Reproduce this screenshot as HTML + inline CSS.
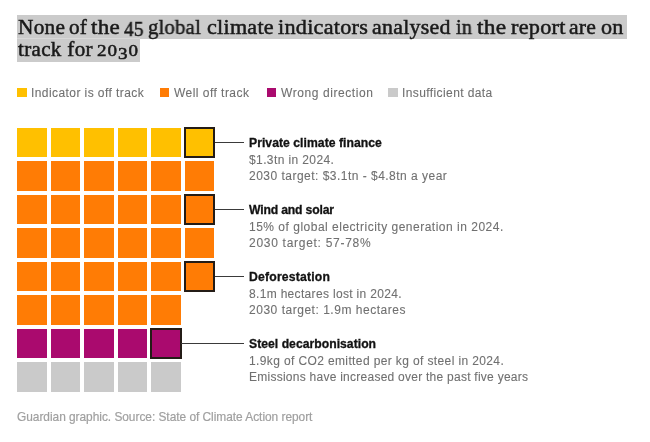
<!DOCTYPE html>
<html><head><meta charset="utf-8">
<style>
html,body{margin:0;padding:0;background:#fff;width:650px;height:442px;overflow:hidden;position:relative}
body{font-family:"Liberation Sans",sans-serif;}
.tr,.tb,.ti,.foot{will-change:transform}
.hlbg{position:absolute;background:#cbcbcb}
.ti{position:absolute;font-family:"Liberation Serif",serif;font-size:21.0px;line-height:23px;color:#1a1a1a;white-space:nowrap;-webkit-text-stroke:0.5px #1a1a1a}
.sw{position:absolute;width:9.9px;height:9.3px}
.tr{position:absolute;font-size:12.0px;line-height:16px;color:#707070;white-space:nowrap;-webkit-text-stroke:0.1px #707070}
.tb{position:absolute;font-size:12.2px;line-height:16px;color:#121212;font-weight:bold;white-space:nowrap;-webkit-text-stroke:0.3px #121212}
.sq{position:absolute;width:29.5px;height:29.5px}
.hl{position:absolute;width:31.5px;height:31.5px;border:2px solid #241c16;box-sizing:border-box}
.ln{position:absolute;height:1px;background:#3a3a3a}
.foot{position:absolute;font-size:11.9px;line-height:16px;color:#a0a0a0;white-space:nowrap;-webkit-text-stroke:0.2px #a0a0a0}
</style></head><body>
<div id="wrap" style="position:absolute;left:0;top:0;width:650px;height:442px">
<div class="hlbg" style="left:17px;top:15px;width:610px;height:24px"></div>
<div class="hlbg" style="left:17px;top:39px;width:122.6px;height:23px"></div>
<div style="position:absolute;left:17px;top:38px;width:122.6px;height:1px;background:#d8d8d8"></div>
<div class="ti" id="w0" style="left:18.08px;top:15.81px;letter-spacing:0.25px;transform:scaleX(1.0140);transform-origin:0 0">None</div>
<div class="ti" id="w1" style="left:69.00px;top:15.81px;letter-spacing:0.25px;transform:scaleX(1.0097);transform-origin:0 0">of</div>
<div class="ti" id="w2" style="left:91.08px;top:15.81px;letter-spacing:0.25px;transform:scaleX(1.0986);transform-origin:0 0">the</div>
<div class="ti" id="w3" style="left:124.04px;top:18.41px;letter-spacing:0.25px;transform:scaleX(0.9167);transform-origin:0 0">45</div>
<div class="ti" id="w4" style="left:148.42px;top:15.81px;letter-spacing:0.25px;transform:scaleX(0.9823);transform-origin:0 0">global</div>
<div class="ti" id="w5" style="left:206.96px;top:15.81px;letter-spacing:0.25px;transform:scaleX(1.0533);transform-origin:0 0">climate</div>
<div class="ti" id="w6" style="left:277.96px;top:15.81px;letter-spacing:0.25px;transform:scaleX(1.0566);transform-origin:0 0">indicators</div>
<div class="ti" id="w7" style="left:371.54px;top:15.81px;letter-spacing:0.25px;transform:scaleX(1.0426);transform-origin:0 0">analysed</div>
<div class="ti" id="w8" style="left:455.54px;top:15.81px;letter-spacing:0.25px;transform:scaleX(0.9643);transform-origin:0 0">in</div>
<div class="ti" id="w9" style="left:476.92px;top:15.81px;letter-spacing:0.25px;transform:scaleX(1.1110);transform-origin:0 0">the</div>
<div class="ti" id="w10" style="left:510.50px;top:15.81px;letter-spacing:0.25px;transform:scaleX(1.0587);transform-origin:0 0">report</div>
<div class="ti" id="w11" style="left:569.46px;top:15.81px;letter-spacing:0.25px;transform:scaleX(1.0308);transform-origin:0 0">are</div>
<div class="ti" id="w12" style="left:600.58px;top:15.81px;letter-spacing:0.25px;transform:scaleX(1.0541);transform-origin:0 0">on</div>
<div class="ti" id="ti2" style="left:17.6px;top:37.71px;letter-spacing:0.35px">track for</div>
<div class="ti" id="y2030" style="left:96.5px;top:39.40px;font-size:16px;letter-spacing:0.8px;transform:scaleX(1.19);transform-origin:0 0">20<span style="position:relative;top:3px">3</span>0</div>
<div class="sw" style="left:17.2px;top:88.2px;background:#ffc000"></div>
<div class="tr" id="l1" style="left:31.2px;top:84.74px;letter-spacing:0.423px">Indicator is off track</div>
<div class="sw" style="left:159.6px;top:88.2px;background:#ff7c05"></div>
<div class="tr" id="l2" style="left:174.0px;top:84.74px;letter-spacing:0.464px">Well off track</div>
<div class="sw" style="left:266.6px;top:88.2px;background:#aa0a6e"></div>
<div class="tr" id="l3" style="left:280.9px;top:84.74px;letter-spacing:0.582px">Wrong direction</div>
<div class="sw" style="left:388.1px;top:88.2px;background:#cacaca"></div>
<div class="tr" id="l4" style="left:401.6px;top:84.74px;letter-spacing:0.4px">Insufficient data</div>
<div id="gridwrap" style="position:absolute;left:0;top:0;width:650px;height:442px">
<div class="sq" style="left:17.20px;top:127.90px;background:#ffc000;box-shadow:0 0 0 1px rgba(255,192,0,0.0)"></div>
<div class="sq" style="left:50.70px;top:127.90px;background:#ffc000;box-shadow:0 0 0 1px rgba(255,192,0,0.0)"></div>
<div class="sq" style="left:84.20px;top:127.90px;background:#ffc000;box-shadow:0 0 0 1px rgba(255,192,0,0.0)"></div>
<div class="sq" style="left:117.70px;top:127.90px;background:#ffc000;box-shadow:0 0 0 1px rgba(255,192,0,0.0)"></div>
<div class="sq" style="left:151.20px;top:127.90px;background:#ffc000;box-shadow:0 0 0 1px rgba(255,192,0,0.0)"></div>
<div class="sq" style="left:184.70px;top:127.90px;background:#ffc000;box-shadow:0 0 0 1px rgba(255,192,0,0.0)"></div>
<div class="sq" style="left:17.20px;top:161.35px;background:#ff7c05;box-shadow:0 0 0 1px rgba(255,124,5,0.0)"></div>
<div class="sq" style="left:50.70px;top:161.35px;background:#ff7c05;box-shadow:0 0 0 1px rgba(255,124,5,0.0)"></div>
<div class="sq" style="left:84.20px;top:161.35px;background:#ff7c05;box-shadow:0 0 0 1px rgba(255,124,5,0.0)"></div>
<div class="sq" style="left:117.70px;top:161.35px;background:#ff7c05;box-shadow:0 0 0 1px rgba(255,124,5,0.0)"></div>
<div class="sq" style="left:151.20px;top:161.35px;background:#ff7c05;box-shadow:0 0 0 1px rgba(255,124,5,0.0)"></div>
<div class="sq" style="left:184.70px;top:161.35px;background:#ff7c05;box-shadow:0 0 0 1px rgba(255,124,5,0.0)"></div>
<div class="sq" style="left:17.20px;top:194.80px;background:#ff7c05;box-shadow:0 0 0 1px rgba(255,124,5,0.0)"></div>
<div class="sq" style="left:50.70px;top:194.80px;background:#ff7c05;box-shadow:0 0 0 1px rgba(255,124,5,0.0)"></div>
<div class="sq" style="left:84.20px;top:194.80px;background:#ff7c05;box-shadow:0 0 0 1px rgba(255,124,5,0.0)"></div>
<div class="sq" style="left:117.70px;top:194.80px;background:#ff7c05;box-shadow:0 0 0 1px rgba(255,124,5,0.0)"></div>
<div class="sq" style="left:151.20px;top:194.80px;background:#ff7c05;box-shadow:0 0 0 1px rgba(255,124,5,0.0)"></div>
<div class="sq" style="left:184.70px;top:194.80px;background:#ff7c05;box-shadow:0 0 0 1px rgba(255,124,5,0.0)"></div>
<div class="sq" style="left:17.20px;top:228.25px;background:#ff7c05;box-shadow:0 0 0 1px rgba(255,124,5,0.0)"></div>
<div class="sq" style="left:50.70px;top:228.25px;background:#ff7c05;box-shadow:0 0 0 1px rgba(255,124,5,0.0)"></div>
<div class="sq" style="left:84.20px;top:228.25px;background:#ff7c05;box-shadow:0 0 0 1px rgba(255,124,5,0.0)"></div>
<div class="sq" style="left:117.70px;top:228.25px;background:#ff7c05;box-shadow:0 0 0 1px rgba(255,124,5,0.0)"></div>
<div class="sq" style="left:151.20px;top:228.25px;background:#ff7c05;box-shadow:0 0 0 1px rgba(255,124,5,0.0)"></div>
<div class="sq" style="left:184.70px;top:228.25px;background:#ff7c05;box-shadow:0 0 0 1px rgba(255,124,5,0.0)"></div>
<div class="sq" style="left:17.20px;top:261.70px;background:#ff7c05;box-shadow:0 0 0 1px rgba(255,124,5,0.0)"></div>
<div class="sq" style="left:50.70px;top:261.70px;background:#ff7c05;box-shadow:0 0 0 1px rgba(255,124,5,0.0)"></div>
<div class="sq" style="left:84.20px;top:261.70px;background:#ff7c05;box-shadow:0 0 0 1px rgba(255,124,5,0.0)"></div>
<div class="sq" style="left:117.70px;top:261.70px;background:#ff7c05;box-shadow:0 0 0 1px rgba(255,124,5,0.0)"></div>
<div class="sq" style="left:151.20px;top:261.70px;background:#ff7c05;box-shadow:0 0 0 1px rgba(255,124,5,0.0)"></div>
<div class="sq" style="left:184.70px;top:261.70px;background:#ff7c05;box-shadow:0 0 0 1px rgba(255,124,5,0.0)"></div>
<div class="sq" style="left:17.20px;top:295.15px;background:#ff7c05;box-shadow:0 0 0 1px rgba(255,124,5,0.0)"></div>
<div class="sq" style="left:50.70px;top:295.15px;background:#ff7c05;box-shadow:0 0 0 1px rgba(255,124,5,0.0)"></div>
<div class="sq" style="left:84.20px;top:295.15px;background:#ff7c05;box-shadow:0 0 0 1px rgba(255,124,5,0.0)"></div>
<div class="sq" style="left:117.70px;top:295.15px;background:#ff7c05;box-shadow:0 0 0 1px rgba(255,124,5,0.0)"></div>
<div class="sq" style="left:151.20px;top:295.15px;background:#ff7c05;box-shadow:0 0 0 1px rgba(255,124,5,0.0)"></div>
<div class="sq" style="left:17.20px;top:328.60px;background:#aa0a6e;box-shadow:0 0 0 1px rgba(170,10,110,0.0)"></div>
<div class="sq" style="left:50.70px;top:328.60px;background:#aa0a6e;box-shadow:0 0 0 1px rgba(170,10,110,0.0)"></div>
<div class="sq" style="left:84.20px;top:328.60px;background:#aa0a6e;box-shadow:0 0 0 1px rgba(170,10,110,0.0)"></div>
<div class="sq" style="left:117.70px;top:328.60px;background:#aa0a6e;box-shadow:0 0 0 1px rgba(170,10,110,0.0)"></div>
<div class="sq" style="left:151.20px;top:328.60px;background:#aa0a6e;box-shadow:0 0 0 1px rgba(170,10,110,0.0)"></div>
<div class="sq" style="left:17.20px;top:362.05px;background:#cacaca;box-shadow:0 0 0 1px rgba(202,202,202,0.0)"></div>
<div class="sq" style="left:50.70px;top:362.05px;background:#cacaca;box-shadow:0 0 0 1px rgba(202,202,202,0.0)"></div>
<div class="sq" style="left:84.20px;top:362.05px;background:#cacaca;box-shadow:0 0 0 1px rgba(202,202,202,0.0)"></div>
<div class="sq" style="left:117.70px;top:362.05px;background:#cacaca;box-shadow:0 0 0 1px rgba(202,202,202,0.0)"></div>
<div class="sq" style="left:151.20px;top:362.05px;background:#cacaca;box-shadow:0 0 0 1px rgba(202,202,202,0.0)"></div>
</div>
<div class="hl" style="left:183.70px;top:126.90px"></div>
<div class="hl" style="left:183.70px;top:193.80px"></div>
<div class="hl" style="left:183.70px;top:260.70px"></div>
<div class="hl" style="left:150.20px;top:327.60px"></div>
<div class="ln" style="left:214.70px;top:142.15px;width:28.90px"></div>
<div class="tb" id="b1" style="left:248.9px;top:134.67px;letter-spacing:0.033px">Private climate finance</div>
<div class="tr" id="t11" style="left:248.9px;top:151.74px;letter-spacing:0.389px">$1.3tn in 2024.</div>
<div class="tr" id="t12" style="left:248.9px;top:167.94px;letter-spacing:0.481px">2030 target: $3.1tn - $4.8tn a year</div>
<div class="ln" style="left:214.70px;top:209.05px;width:28.90px"></div>
<div class="tb" id="b2" style="left:248.9px;top:201.67px;letter-spacing:-0.168px">Wind and solar</div>
<div class="tr" id="t21" style="left:248.9px;top:218.74px;letter-spacing:0.503px">15% of global electricity generation in 2024.</div>
<div class="tr" id="t22" style="left:248.9px;top:234.94px;letter-spacing:0.719px">2030 target: 57-78%</div>
<div class="ln" style="left:214.70px;top:275.95px;width:28.90px"></div>
<div class="tb" id="b3" style="left:248.9px;top:268.67px;letter-spacing:0.199px">Deforestation</div>
<div class="tr" id="t31" style="left:248.9px;top:285.74px;letter-spacing:0.323px">8.1m hectares lost in 2024.</div>
<div class="tr" id="t32" style="left:248.9px;top:301.94px;letter-spacing:0.52px">2030 target: 1.9m hectares</div>
<div class="ln" style="left:181.20px;top:342.85px;width:62.40px"></div>
<div class="tb" id="b4" style="left:248.9px;top:335.67px;letter-spacing:0.02px">Steel decarbonisation</div>
<div class="tr" id="t41" style="left:248.9px;top:352.74px;letter-spacing:0.377px">1.9kg of CO2 emitted per kg of steel in 2024.</div>
<div class="tr" id="t42" style="left:248.9px;top:368.94px;letter-spacing:0.254px">Emissions have increased over the past five years</div>
<div class="foot" id="foot" style="left:17.2px;top:409.08px;letter-spacing:-0.025px">Guardian graphic. Source: State of Climate Action report</div>
</div>
</body></html>
